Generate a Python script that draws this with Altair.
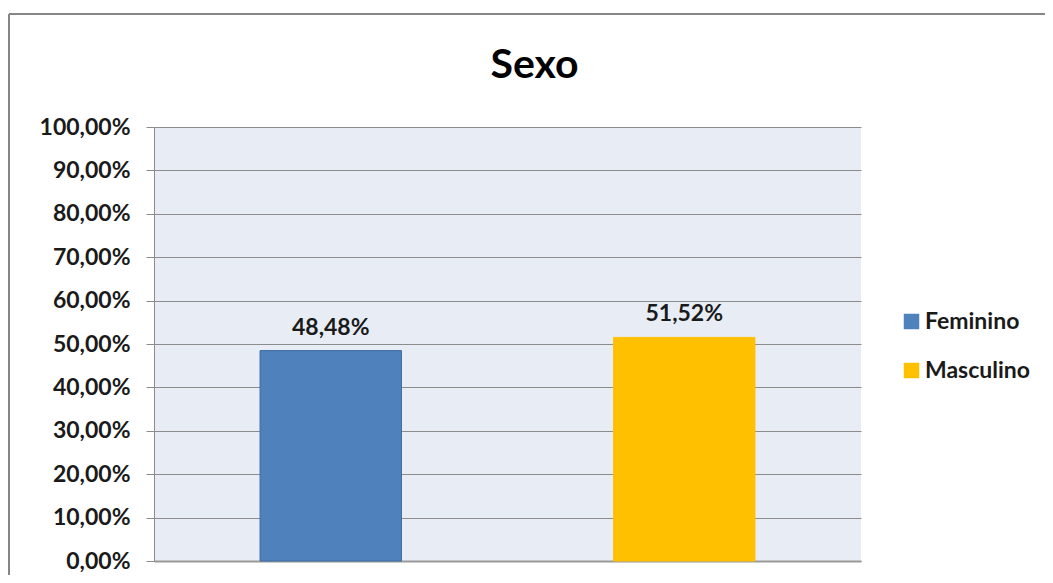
import altair as alt
import pandas as pd

categories = ["Feminino", "Masculino"]
values = [48.48, 51.52]
colors = ["#4f81bd", "#ffc000"]
strokes = ["#3d6ca3", "#ffc000"]
y_ticks = [0, 10, 20, 30, 40, 50, 60, 70, 80, 90, 100]

df = pd.DataFrame({"sexo": categories, "valor": values})

FONT = "Lato"
TXT = "#1a1a1a"

base = alt.Chart(df)

bars = base.mark_bar(strokeWidth=1).encode(
    x=alt.X("sexo:N", sort=categories, title=None,
            scale=alt.Scale(paddingInner=0.6, paddingOuter=0.3),
            axis=alt.Axis(labels=False, ticks=False, domain=True,
                          domainColor="#9a9a9a", domainWidth=2, grid=False)),
    y=alt.Y("valor:Q", title=None,
            scale=alt.Scale(domain=[0, 100], nice=False),
            axis=alt.Axis(values=y_ticks,
                          labelExpr="replace(format(datum.value, '.2f'), '.', ',') + '%'",
                          labelFont=FONT, labelFontWeight="bold", labelFontSize=23,
                          labelColor=TXT, labelPadding=16,
                          tickSize=8, tickColor="#8c8c8c",
                          domainColor="#8c8c8c", gridColor="#8c8c8c", gridWidth=1)),
    color=alt.Color("sexo:N", sort=categories,
                    scale=alt.Scale(domain=categories, range=colors),
                    legend=alt.Legend(title=None, orient="none", legendX=746, legendY=183,
                                      symbolType="square", symbolSize=240,
                                      symbolStrokeWidth=0,
                                      labelFont=FONT, labelFontWeight="bold",
                                      labelFontSize=23, labelColor=TXT,
                                      rowPadding=25, labelOffset=2)),
    stroke=alt.Stroke("sexo:N", scale=alt.Scale(domain=categories, range=strokes), legend=None),
)

labels = base.transform_calculate(
    lbl="replace(format(datum.valor, '.2f'), '.', ',') + '%'"
).mark_text(dy=-16, baseline="alphabetic", font=FONT, fontWeight="bold",
            fontSize=23, color=TXT).encode(
    x=alt.X("sexo:N", sort=categories),
    y="valor:Q",
    text="lbl:N",
)

frame_data = alt.Data(values=[{"k": 1}])
frame_left = alt.Chart(frame_data).mark_rule(color="#868686", strokeWidth=2).encode(
    x=alt.value(-145), y=alt.value(-113), y2=alt.value(480))
frame_top = alt.Chart(frame_data).mark_rule(color="#868686", strokeWidth=2).encode(
    x=alt.value(-145), x2=alt.value(900), y=alt.value(-113))

chart = alt.layer(bars, labels, frame_left, frame_top).properties(
    width=707, height=434,
    title=alt.Title("Sexo", font=FONT, fontSize=41, fontWeight="bold", color="#000000",
                    anchor="middle", dx=27, offset=-106, baseline="alphabetic"),
    autosize=alt.AutoSizeParams(type="none"),
    padding={"left": 146, "top": 119, "right": 184, "bottom": 14},
    background="white",
).configure_view(fill="#e8edf5", stroke=None)

chart.save("out.html", embed_options={"renderer": "svg", "actions": False})
